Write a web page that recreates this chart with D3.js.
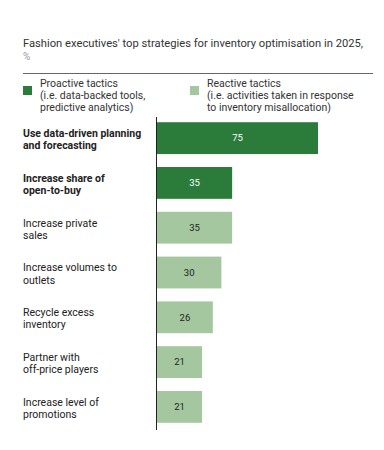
<!DOCTYPE html>
<meta charset="utf-8">
<head>
  <title>Inventory optimisation strategies</title>
</head>
<style>
  body { margin: 0; background: #fff; }
  text { font-family: Roboto, "Noto Sans", sans-serif; }
</style>

<script src="https://d3js.org/d3.v7.min.js"></script>

<div id="my_dataviz"></div>

<script>
  // data
  var labels = [
    ["Use data-driven planning", "and forecasting"],
    ["Increase share of", "open-to-buy"],
    ["Increase private", "sales"],
    ["Increase volumes to", "outlets"],
    ["Recycle excess", "inventory"],
    ["Partner with", "off-price players"],
    ["Increase level of", "promotions"]
  ];
  var values = [75, 35, 35, 30, 26, 21, 21];
  var types = ["proactive", "proactive", "reactive", "reactive", "reactive", "reactive", "reactive"];

  var legendTitles = ["Proactive tactics", "Reactive tactics"];
  var legendNotes = [
    ["(i.e. data-backed tools,", "predictive analytics)"],
    ["(i.e. activities taken in response", "to inventory misallocation)"]
  ];

  var colors = { proactive: "#2b7b3b", reactive: "#a5c7a0" };

  var W = 384, H = 450;

  var svg = d3.select("#my_dataviz")
    .append("svg")
    .attr("width", W)
    .attr("height", H);

  // title
  svg.append("text")
    .attr("x", 23).attr("y", 47)
    .attr("font-size", 11.2)
    .attr("fill", "#333")
    .text("Fashion executives' top strategies for inventory optimisation in 2025,");
  svg.append("text")
    .attr("x", 23).attr("y", 60)
    .attr("font-size", 10)
    .attr("fill", "#999")
    .text("%");

  svg.append("line")
    .attr("x1", 23).attr("x2", 373)
    .attr("y1", 73.5).attr("y2", 73.5)
    .attr("stroke", "#666").attr("stroke-width", 1);

  // legend
  var legendX = [23, 190];
  var legendKeys = ["proactive", "reactive"];
  legendKeys.forEach(function(k, i) {
    var g = svg.append("g").attr("transform", "translate(" + legendX[i] + ",0)");
    g.append("rect")
      .attr("x", 0).attr("y", 86)
      .attr("width", 9).attr("height", 9)
      .attr("fill", colors[k]);
    var t = g.append("text")
      .attr("x", 17).attr("y", 87)
      .attr("font-size", 10.5)
      .attr("fill", "#333");
    t.append("tspan").attr("x", 17).attr("dy", 0).text(legendTitles[i]);
    legendNotes[i].forEach(function(line) {
      t.append("tspan").attr("x", 17).attr("dy", 12).text(line);
    });
  });

  // scales
  var x = d3.scaleLinear()
    .domain([0, 75])
    .range([157, 318]);

  var y = d3.scaleBand()
    .domain(d3.range(values.length))
    .range([122 - 6.5, 423 + 6.5])
    .paddingInner(0.29)
    .paddingOuter(0.15);

  // bars
  svg.append("g")
    .selectAll("rect")
    .data(values)
    .enter()
    .append("rect")
    .attr("x", x(0))
    .attr("y", function(d, i) { return y(i); })
    .attr("width", function(d) { return x(d) - x(0); })
    .attr("height", y.bandwidth())
    .attr("fill", function(d, i) { return colors[types[i]]; });

  // value labels
  svg.append("g")
    .selectAll("text")
    .data(values)
    .enter()
    .append("text")
    .attr("x", function(d) { return (x(0) + x(d)) / 2; })
    .attr("y", function(d, i) { return y(i) + y.bandwidth() / 2; })
    .attr("dy", "0.35em")
    .attr("text-anchor", "middle")
    .attr("font-size", 9.5)
    .attr("fill", function(d, i) { return types[i] == "proactive" ? "#fff" : "#222"; })
    .text(function(d) { return d; });

  // category labels
  var lab = svg.append("g")
    .selectAll("text")
    .data(labels)
    .enter()
    .append("text")
    .attr("y", function(d, i) { return y(i) + y.bandwidth() / 2; })
    .attr("font-size", 10.5)
    .attr("font-weight", function(d, i) { return types[i] == "proactive" ? 700 : 400; })
    .attr("fill", "#222");
  lab.append("tspan").attr("x", 23).attr("dy", "-0.1em").text(function(d) { return d[0]; });
  lab.append("tspan").attr("x", 23).attr("dy", "1.15em").text(function(d) { return d[1]; });

  // axis line
  svg.append("line")
    .attr("x1", 156.5).attr("x2", 156.5)
    .attr("y1", 117).attr("y2", 430)
    .attr("stroke", "#222").attr("stroke-width", 1);
</script>
